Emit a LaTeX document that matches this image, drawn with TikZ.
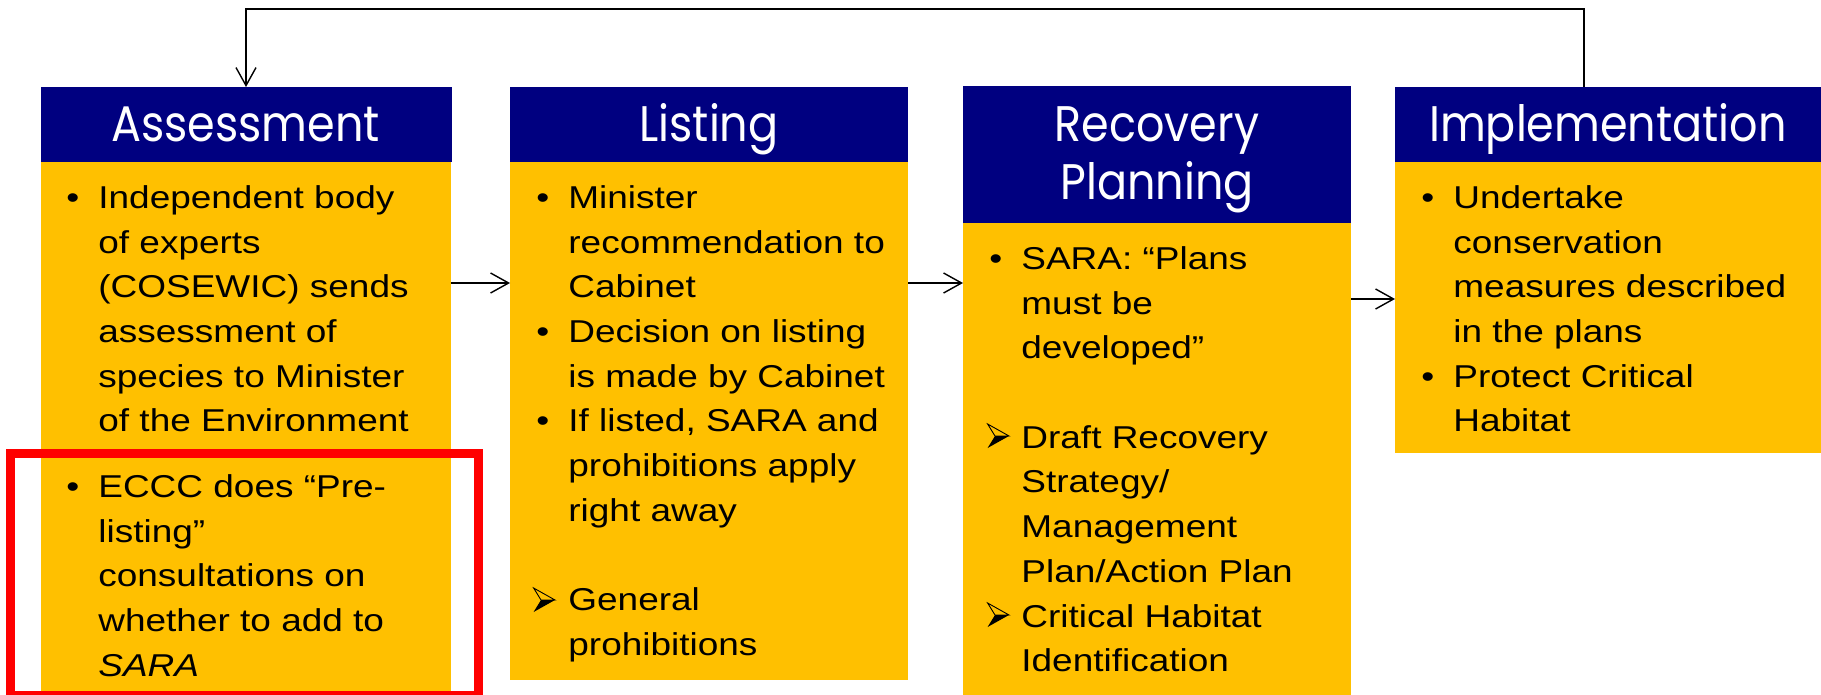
\documentclass[tikz,border=0pt]{standalone}
\usepackage{fontspec}
\setmainfont{Liberation Sans}[FakeStretch=1.17]
\newfontfamily\headfont{Poppins}[FakeStretch=0.89]
\usetikzlibrary{arrows.meta}

\definecolor{headblue}{RGB}{0,0,128}
\definecolor{bodyyellow}{RGB}{255,192,0}
\definecolor{markred}{RGB}{255,0,0}

% list markers and hanging indent
\newcommand\itembul{\makebox[16pt][l]{\textbullet}}
\newcommand\cont{\hspace*{16pt}}
\newcommand\firstline{\rule{0pt}{14pt}}

\begin{document}
\begin{tikzpicture}[x=0.5pt,y=-0.5pt,
  panel/.style={draw=none,inner sep=0pt,outer sep=0pt,anchor=north west},
  head/.style={panel,fill=headblue,minimum height=37.5pt},
  body/.style={panel,fill=bodyyellow},
  headtext/.style={anchor=base,inner sep=0pt,text=white,font=\headfont\fontsize{25}{29}\selectfont},
  bodytext/.style={anchor=north west,inner sep=0pt,align=left,font=\fontsize{15.8}{22.35}\selectfont},
  flow/.style={draw=black,line width=0.7pt,-{Straight Barb[length=9pt,width=10pt,line width=0.7pt]}},
  markbox/.style={draw=markred,line width=4.5pt},
  % three-D arrowhead list marker, origin on the baseline at its left edge
  arrowmark/.pic={
    \fill[black] (8,-12) -- (22,-12) -- (0.6,0) -- cycle;
    \draw[black,line width=0.45pt,line join=miter] (0.6,-24) -- (22,-12) -- (8,-12) -- cycle;
  }]

\useasboundingbox (0,0) rectangle (1821,695);

% stage headers
\node[head,minimum width=205.5pt] (ah) at (40.5,87) {};
\node[head,minimum width=199pt] (lh) at (510,87) {};
\node[head,minimum width=194pt,minimum height=68.5pt] (rh) at (963,86) {};
\node[head,minimum width=213pt] (ih) at (1395,87) {};

% stage bodies
\node[body,minimum width=205pt,minimum height=266.5pt] (ab) at (40.5,162) {};
\node[body,minimum width=199pt,minimum height=259pt] (lb) at (510,162) {};
\node[body,minimum width=194pt,minimum height=236pt] (rb) at (963,223) {};
\node[body,minimum width=213pt,minimum height=145.5pt] (ib) at (1395,162) {};

% header titles
\node[headtext] (aht) at (245.5,142) {Assessment};
\node[headtext] (lht) at (709,142) {Listing};
\node[headtext] (rht1) at (1157,142) {Recovery};
\node[headtext] (rht2) at (1157,200) {Planning};
\node[headtext] (iht) at (1608,142) {Implementation};

% body texts
\node[bodytext] (at) at (66,180) {%
  \firstline\itembul Independent body\\
  \cont of experts\\
  \cont (COSEWIC) sends\\
  \cont assessment of\\
  \cont species to Minister\\
  \cont of the Environment\\[10.4pt]
  \itembul ECCC does “Pre-\\
  \cont listing”\\
  \cont consultations on\\
  \cont whether to add to\\
  \cont \textit{SARA}};

\node[bodytext] (lt) at (536,180) {%
  \firstline\itembul Minister\\
  \cont recommendation to\\
  \cont Cabinet\\
  \itembul Decision on listing\\
  \cont is made by Cabinet\\
  \itembul If listed, SARA and\\
  \cont prohibitions apply\\
  \cont right away\\[22.35pt]
  \cont General\\
  \cont prohibitions};

\node[bodytext] (rt) at (989,241) {%
  \firstline\itembul SARA: “Plans\\
  \cont must be\\
  \cont developed”\\[22.35pt]
  \cont Draft Recovery\\
  \cont Strategy/\\
  \cont Management\\
  \cont Plan/Action Plan\\
  \cont Critical Habitat\\
  \cont Identification};

\node[bodytext] (it) at (1421,180) {%
  \firstline\itembul Undertake\\
  \cont conservation\\
  \cont measures described\\
  \cont in the plans\\
  \itembul Protect Critical\\
  \cont Habitat};

% arrowhead markers of the sub-items
\pic at (533,612) {arrowmark};
\pic at (987,448) {arrowmark};
\pic at (987,627) {arrowmark};

% flow between stages
\coordinate (y1) at (0,283);
\coordinate (y2) at (0,299);
\draw[flow] (ab.east |- y1) -- (lb.west |- y1);
\draw[flow] (lb.east |- y1) -- (rb.west |- y1);
\draw[flow] (rb.east |- y2) -- (ib.west |- y2);

% feedback loop from implementation back to assessment
\coordinate (fbR) at (1584,0);
\coordinate (fbL) at (246,0);
\coordinate (fbTop) at (0,9);
\draw[flow] (ih.north -| fbR) |- (fbTop -| fbL) -- (ah.north -| fbL);

% highlight around the pre-listing step
\draw[markbox] (10.5,453) rectangle (478.5,695);
\end{tikzpicture}
\end{document}
